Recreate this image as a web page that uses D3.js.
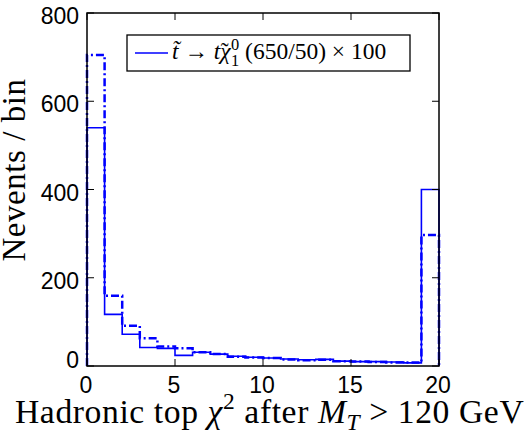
<!DOCTYPE html>
<html>
<head>
<meta charset="utf-8">
<script src="https://cdn.jsdelivr.net/npm/d3@7"></script>
<style>
  body { margin: 0; background: #fff; }
  svg { display: block; }
</style>
</head>
<body>
<svg id="chart" width="524" height="437"></svg>
<script>
// bin edges 0..20, one bin per unit
var binStarts = d3.range(0, 20);
var solidCounts  = [540, 117, 72, 42, 40, 24, 31, 27, 22, 20, 18, 16, 14, 15, 11, 10, 10, 9, 7, 400];
var dashedCounts = [705, 159, 91, 63, 44, 40, 31, 27, 21, 19, 18, 15, 13, 14, 11, 10, 9, 8, 8, 297];
var xTicks = [0, 5, 10, 15, 20];
var yTicks = [0, 200, 400, 600, 800];

var plotLeft = 87, plotTop = 13, plotW = 352, plotH = 353;
var sansFont = "'Liberation Sans', Arial, sans-serif";
var serifFont = "'Liberation Serif', 'Times New Roman', serif";
var svg = d3.select("#chart");

var x = d3.scaleLinear().domain([0, 20]).range([plotLeft, plotLeft + plotW]);
var y = d3.scaleLinear().domain([0, 800]).range([plotTop + plotH, plotTop]);

// step outline of a histogram, closed down to zero at both ends
function stairs(counts) {
  var pts = [[0, 0]];
  counts.forEach(function(c, i) {
    pts.push([binStarts[i], c]);
    pts.push([binStarts[i] + 1, c]);
  });
  pts.push([20, 0]);
  return d3.line().x(function(d) { return x(d[0]); }).y(function(d) { return y(d[1]); })(pts);
}

svg.append("path")
  .attr("d", stairs(dashedCounts))
  .attr("fill", "none")
  .attr("stroke", "#0000ff")
  .attr("stroke-width", 2.5)
  .attr("stroke-dasharray", "8,3,2,3");

svg.append("path")
  .attr("d", stairs(solidCounts))
  .attr("fill", "none")
  .attr("stroke", "#0000ff")
  .attr("stroke-width", 1.6);

// frame
svg.append("rect")
  .attr("x", plotLeft).attr("y", plotTop)
  .attr("width", plotW).attr("height", plotH)
  .attr("fill", "none").attr("stroke", "#000").attr("stroke-width", 1.5);

// inward ticks on all four sides
var tk = 7;
xTicks.forEach(function(t) {
  svg.append("line").attr("x1", x(t)).attr("x2", x(t)).attr("y1", plotTop + plotH).attr("y2", plotTop + plotH - tk).attr("stroke", "#000");
  svg.append("line").attr("x1", x(t)).attr("x2", x(t)).attr("y1", plotTop).attr("y2", plotTop + tk).attr("stroke", "#000");
  svg.append("text")
    .attr("font-family", sansFont).attr("font-size", 23)
    .attr("x", x(t) - 1).attr("y", 393)
    .attr("text-anchor", "middle")
    .text(t);
});
yTicks.forEach(function(t) {
  svg.append("line").attr("x1", plotLeft).attr("x2", plotLeft + tk).attr("y1", y(t)).attr("y2", y(t)).attr("stroke", "#000");
  svg.append("line").attr("x1", plotLeft + plotW).attr("x2", plotLeft + plotW - tk).attr("y1", y(t)).attr("y2", y(t)).attr("stroke", "#000");
  svg.append("text")
    .attr("font-family", sansFont).attr("font-size", 23)
    .attr("x", plotLeft - 8).attr("y", y(t) + (t === 0 ? 2 : 11))
    .attr("text-anchor", "end")
    .text(t);
});

// scale a text element so it spans the given width
function fit(txt, width) {
  var len = txt.node().getComputedTextLength();
  var fs = parseFloat(txt.attr("font-size"));
  txt.attr("font-size", fs * width / len);
}

// x label
var xl = svg.append("text").attr("font-family", serifFont)
  .attr("x", 15).attr("y", 423).attr("font-size", 30)
  .attr("letter-spacing", 0.6);
xl.append("tspan").text("Hadronic top ");
xl.append("tspan").attr("font-style", "italic").text("\u03c7");
xl.append("tspan").attr("font-size", "0.7em").attr("dy", "-0.6em").text("2");
xl.append("tspan").attr("dy", "0.42em").text(" after ");
xl.append("tspan").attr("font-style", "italic").text("M");
xl.append("tspan").attr("font-style", "italic").attr("font-size", "0.7em").attr("dy", "0.3em").text("T");
xl.append("tspan").attr("dy", "-0.21em").text(" > 120 GeV");
fit(xl, 512);

// y label
var yl = svg.append("text").attr("font-family", serifFont)
  .attr("transform", "translate(25,170) rotate(-90)")
  .attr("text-anchor", "middle")
  .attr("font-size", 30)
  .attr("letter-spacing", 0.6)
  .text("Nevents / bin");
fit(yl, 184);

// legend
svg.append("rect")
  .attr("x", 127).attr("y", 35).attr("width", 283).attr("height", 36)
  .attr("fill", "#fff").attr("stroke", "#000").attr("stroke-width", 1.3);
svg.append("line")
  .attr("x1", 135).attr("x2", 168).attr("y1", 53).attr("y2", 53)
  .attr("stroke", "#0000ff").attr("stroke-width", 1.6);
var lt = svg.append("text").attr("font-family", serifFont)
  .attr("x", 172).attr("y", 59).attr("font-size", 18);
lt.append("tspan").attr("font-style", "italic").text("t\u0303");
lt.append("tspan").text(" \u2192 ");
lt.append("tspan").attr("font-style", "italic").text("t\u03c7");
lt.append("tspan").attr("dx", "-0.42em").text("\u02dc");
lt.append("tspan").attr("font-size", "0.7em").attr("dx", "0.15em").attr("dy", "-0.55em").text("0");
lt.append("tspan").attr("font-size", "0.7em").attr("dx", "-0.5em").attr("dy", "1.0em").text("1");
lt.append("tspan").attr("dy", "-0.315em").text(" (650/50) \u00d7 100");
fit(lt, 230);
</script>
</body>
</html>
